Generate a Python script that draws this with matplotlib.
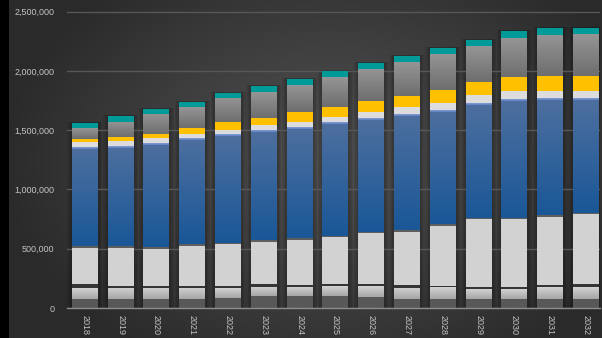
import numpy as np
import matplotlib
matplotlib.use("Agg")
import matplotlib.pyplot as plt
from matplotlib.colors import LinearSegmentedColormap

# yearly stacked totals, values in thousands (bottom segment first)
years = [str(y) for y in range(2018, 2033)]
base_dark = [76, 76, 76, 76, 84, 101, 101, 101, 93, 76, 78, 78, 78, 78, 78]
base_light = [90, 95, 95, 95, 84, 78, 78, 82, 90, 96, 96, 84, 84, 96, 101]
band_dark = [36, 17, 17, 17, 17, 23, 14, 20, 20, 20, 11, 17, 12, 20, 23]
light_gray = [306, 320, 312, 337, 351, 359, 383, 395, 426, 451, 511, 568, 573, 578, 587]
thin_line = [12, 12, 12, 12, 12, 12, 12, 12, 12, 12, 12, 12, 12, 12, 12]
blue = [823, 829, 862, 879, 902, 911, 921, 941, 944, 964, 945, 953, 986, 970, 953]
light_blue = [17, 17, 17, 17, 17, 17, 17, 17, 17, 17, 17, 17, 17, 17, 17]
white = [40, 42, 42, 34, 34, 42, 42, 43, 51, 59, 59, 67, 68, 59, 59]
yellow = [28, 34, 34, 51, 67, 59, 85, 84, 92, 93, 109, 110, 118, 126, 126]
gray = [90, 129, 169, 177, 203, 219, 227, 253, 270, 286, 304, 303, 329, 346, 354]
teal = [42, 48, 42, 42, 42, 51, 51, 50, 51, 51, 50, 51, 59, 59, 51]

series = [
    (base_dark, "#585858", None),
    (base_light, None, ("#a6a6a6", "#d2d2d2")),
    (band_dark, "#353535", None),
    (light_gray, "#d2d2d2", None),
    (thin_line, "#5e5e5e", None),
    (blue, None, ("#1a5797", "#4d6f9f")),
    (light_blue, None, ("#5f7fc0", "#93acdf")),
    (white, "#dcdcdc", None),
    (yellow, "#ffc000", None),
    (gray, None, ("#6e6e6e", "#959595")),
    (teal, "#009b98", None),
]

W, H = 602, 338
fig = plt.figure(figsize=(W / 100, H / 100), dpi=100)

# dark radial backdrop
bg = fig.add_axes([0, 0, 1, 1], zorder=-10)
yy, xx = np.mgrid[0:H, 0:W]
d = np.sqrt(((xx - 330) / 330.0) ** 2 + ((yy - 160) / 230.0) ** 2)
t = np.clip(d, 0, 1) ** 1.3
lum = (0x4e * (1 - t) + 0x2a * t) / 255.0
img = np.dstack([lum, lum, lum])
img[:, :9, :] = 0
bg.imshow(img, aspect="auto", interpolation="bilinear")
bg.axis("off")

top_val = 2520000
y0_px, y_top_px = 308, 11.7 - 20000 / 8432
ax = fig.add_axes([67 / W, (H - y0_px) / H, (600 - 67) / W, (y0_px - y_top_px) / H])
ax.patch.set_alpha(0)

x = np.arange(len(years))
width = 0.726
totals = np.zeros(len(years))
for vals, _, _ in series:
    totals += np.array(vals) * 1000

# soft shadows around each column
for w, a in [(0.98, 0.08), (0.9, 0.08), (0.82, 0.09)]:
    ax.bar(x, totals + 8000, width=w, color="black", alpha=a, zorder=0.3, linewidth=0)

bottom = np.zeros(len(years))
for vals, color, grad in series:
    v = np.array(vals) * 1000
    bars = ax.bar(x, v, width=width, bottom=bottom, color=color or "none",
                  linewidth=0, zorder=2)
    if grad is not None:
        cmap = LinearSegmentedColormap.from_list("g", list(grad))
        for b in bars:
            x0, y0 = b.get_x(), b.get_y()
            im = ax.imshow(np.linspace(0, 1, 64).reshape(-1, 1), cmap=cmap,
                           origin="lower", aspect="auto", zorder=2,
                           extent=[x0, x0 + b.get_width(), y0, y0 + b.get_height()])
            im.set_clip_path(b)
    bottom += v

ax.set_xlim(-0.5, 14.39)
ax.set_ylim(0, top_val)
ax.set_yticks(np.arange(0, 2500001, 500000))
ax.set_yticklabels([f"{v:,}" for v in range(0, 2500001, 500000)])
ax.set_xticks(x)
ax.set_xticklabels(years, rotation=270)

ax.set_axisbelow(True)
ax.yaxis.grid(True, color="#575757", linewidth=1.0)
ax.grid(False, axis="x")
for s in ["left", "right", "top"]:
    ax.spines[s].set_visible(False)
ax.spines["bottom"].set_color("#8c8c8c")
ax.spines["bottom"].set_linewidth(1.0)
ax.tick_params(axis="both", length=0, colors="#c4c4c4", labelsize=6.5)
ax.tick_params(axis="y", pad=9)
ax.tick_params(axis="x", pad=5)
for lab in ax.get_xticklabels() + ax.get_yticklabels():
    lab.set_family("Liberation Sans")

fig.savefig("out.png", dpi=100)
